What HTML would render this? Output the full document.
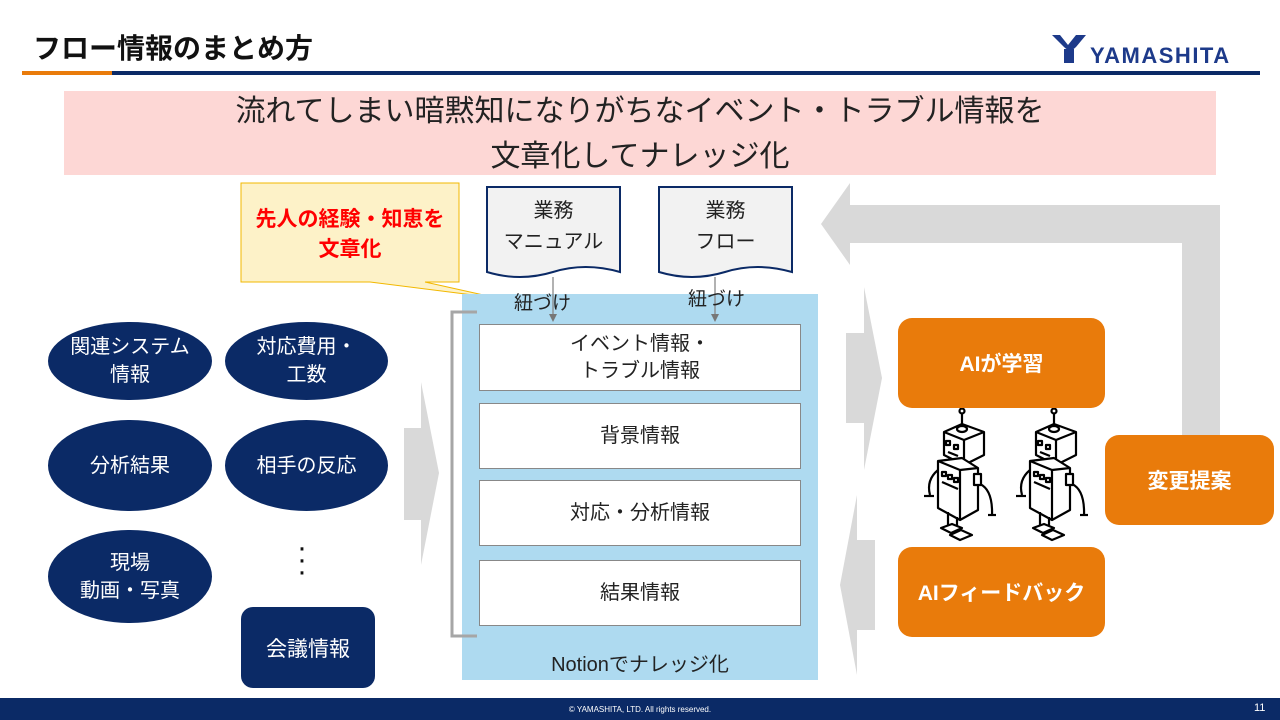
<!DOCTYPE html>
<html><head><meta charset="utf-8"><style>
*{margin:0;padding:0;box-sizing:border-box}
body{width:1280px;height:720px;position:relative;background:#fff;font-family:"Liberation Sans","Noto Sans CJK JP",sans-serif;overflow:hidden}
.a{position:absolute}
.c{display:flex;align-items:center;justify-content:center;text-align:center}
.ov{background:#0b2a66;color:#fff;border-radius:50%;font-size:20px;line-height:28px}
.wb{background:#fff;border:1px solid #888;font-size:20px;color:#222;line-height:27px}
.or{background:#e97b0b;color:#fff;border-radius:14px;font-weight:bold;font-size:21px}
</style></head><body>
<div class="a" style="left:33px;top:27px;font-size:28px;font-weight:bold;color:#111;letter-spacing:0px">フロー情報のまとめ方</div>
<div class="a" style="left:22px;top:71px;width:90px;height:4px;background:#e97b0b"></div>
<div class="a" style="left:112px;top:71px;width:1148px;height:4px;background:#0b2a66"></div>
<svg class="a" style="left:1050px;top:33px" width="40" height="32"><path d="M2 2 L10 2 L18 12 L26 2 L36 2 L26 14 Q20 20 14 14 Z M14 16 L24 16 L24 30 L14 30 Z" fill="#1d3a8a"/></svg>
<div class="a" style="left:1090px;top:43px;font-size:22px;font-weight:bold;color:#1d3a8a;letter-spacing:1.5px">YAMASHITA</div>

<div class="a c" style="left:64px;top:91px;width:1152px;height:84px;background:#fdd7d5;font-size:30px;line-height:45px;color:#222;padding-top:2px">流れてしまい暗黙知になりがちなイベント・トラブル情報を<br>文章化してナレッジ化</div>

<svg class="a" style="left:0;top:0" width="1280" height="720">
<path d="M241 183 H459 V282 H425 L497 298 L370 282 H241 Z" fill="#fdf2c8" stroke="#f2b800" stroke-width="1"/>
<rect x="462" y="294" width="356" height="386" fill="#aedaf0"/>
<path d="M487 187 H620 V272 Q585 262 553 272 Q520 282 487 272 Z" fill="#f2f2f2" stroke="#0b2a66" stroke-width="2"/>
<path d="M659 187 H792 V272 Q757 262 725 272 Q692 282 659 272 Z" fill="#f2f2f2" stroke="#0b2a66" stroke-width="2"/>
<line x1="553" y1="277" x2="553" y2="316" stroke="#888" stroke-width="1.3"/><path d="M549 314 L553 322 L557 314 Z" fill="#777"/>
<line x1="715" y1="277" x2="715" y2="316" stroke="#888" stroke-width="1.3"/><path d="M711 314 L715 322 L719 314 Z" fill="#777"/>
<path d="M477 312 H452 V636 H477" fill="none" stroke="#a6a6a6" stroke-width="3"/>
<path d="M404 428 H421 V382 L439 473 L421 565 V520 H404 Z" fill="#d9d9d9"/>
<path d="M846 333 H864 V287 L882 378 L864 470 V423 H846 Z" fill="#d9d9d9"/>
<path d="M875 540 H857 V495 L840 585 L857 675 V630 H875 Z" fill="#d9d9d9"/>
<path d="M1220 435 V205 H850 V183 L821 224 L850 265 V243 H1182 V435 Z" fill="#d9d9d9"/>
<g fill="#fff" stroke="#000" stroke-width="2.2" stroke-linejoin="round">
<g id="r">
<line x1="962" y1="410" x2="962" y2="424"/><circle cx="962" cy="411" r="2.5"/>
<path d="M944 432 L962 424 L984 432 L984 455 L964 465 L944 455 Z"/><path d="M944 432 L964 440 L984 432 M964 440 V465"/>
<ellipse cx="962" cy="429" rx="5" ry="3"/>
<rect x="946" y="441" width="4" height="4"/><rect x="954" y="445" width="4" height="4"/><path d="M948 452 L958 456"/>
<path d="M938 461 L962 458 L978 468 L978 510 L960 520 L938 508 Z"/><path d="M938 461 L960 470 L978 468 M960 470 V520"/>
<rect x="942" y="472" width="4" height="4"/><rect x="948" y="475" width="4" height="4"/><rect x="954" y="478" width="4" height="4"/><path d="M942 482 L958 489"/>
<rect x="974" y="474" width="7" height="11"/>
<path d="M980 484 Q993 490 992 516" fill="none"/><path d="M988 515 L996 515"/>
<path d="M938 470 Q926 480 930 495" fill="none"/><path d="M924 496 L934 496"/>
<path d="M948 512 V530 M957 517 V535"/>
<path d="M941 528 L952 524 L962 528 L951 533 Z"/><path d="M950 535 L961 530 L972 535 L960 540 Z"/>
</g>
<use href="#r" x="92"/>
</g>
</svg>
<div class="a c" style="left:241px;top:205px;width:218px;font-size:21px;line-height:30px;font-weight:bold;color:#f00">先人の経験・知恵を<br>文章化</div>
<div class="a c" style="left:487px;top:196px;width:133px;font-size:20px;line-height:31px;color:#222">業務<br>マニュアル</div>
<div class="a c" style="left:659px;top:196px;width:133px;font-size:20px;line-height:31px;color:#222">業務<br>フロー</div>
<div class="a" style="left:514px;top:288px;font-size:19px;color:#222">紐づけ</div>
<div class="a" style="left:688px;top:284px;font-size:19px;color:#222">紐づけ</div>

<div class="a c wb" style="left:479px;top:324px;width:322px;height:67px">イベント情報・<br>トラブル情報</div>
<div class="a c wb" style="left:479px;top:403px;width:322px;height:66px">背景情報</div>
<div class="a c wb" style="left:479px;top:480px;width:322px;height:66px">対応・分析情報</div>
<div class="a c wb" style="left:479px;top:560px;width:322px;height:66px">結果情報</div>
<div class="a c" style="left:462px;top:648px;width:356px;font-size:20px;color:#222">Notionでナレッジ化</div>

<div class="a c ov" style="left:48px;top:322px;width:164px;height:78px">関連システム<br>情報</div>
<div class="a c ov" style="left:225px;top:322px;width:163px;height:78px">対応費用・<br>工数</div>
<div class="a c ov" style="left:48px;top:420px;width:164px;height:91px">分析結果</div>
<div class="a c ov" style="left:225px;top:420px;width:163px;height:91px">相手の反応</div>
<div class="a c ov" style="left:48px;top:530px;width:164px;height:93px">現場<br>動画・写真</div>
<div class="a c" style="left:290px;top:540px;width:24px;height:40px;font-size:30px;line-height:12px;color:#111">·<br>·<br>·</div>
<div class="a c" style="left:241px;top:607px;width:134px;height:81px;background:#0b2a66;color:#fff;border-radius:12px;font-size:21px">会議情報</div>

<div class="a c or" style="left:898px;top:318px;width:207px;height:90px">AIが学習</div>
<div class="a c or" style="left:898px;top:547px;width:207px;height:90px">AIフィードバック</div>
<div class="a c or" style="left:1105px;top:435px;width:169px;height:90px">変更提案</div>

<div class="a" style="left:0;top:698px;width:1280px;height:22px;background:#0b2a66"></div>
<div class="a c" style="left:0;top:700px;width:1280px;height:18px;color:#fff;font-size:8px">©  YAMASHITA, LTD.  All rights reserved.</div>
<div class="a" style="left:1254px;top:702px;color:#fff;font-size:11px">11</div>
</body></html>
